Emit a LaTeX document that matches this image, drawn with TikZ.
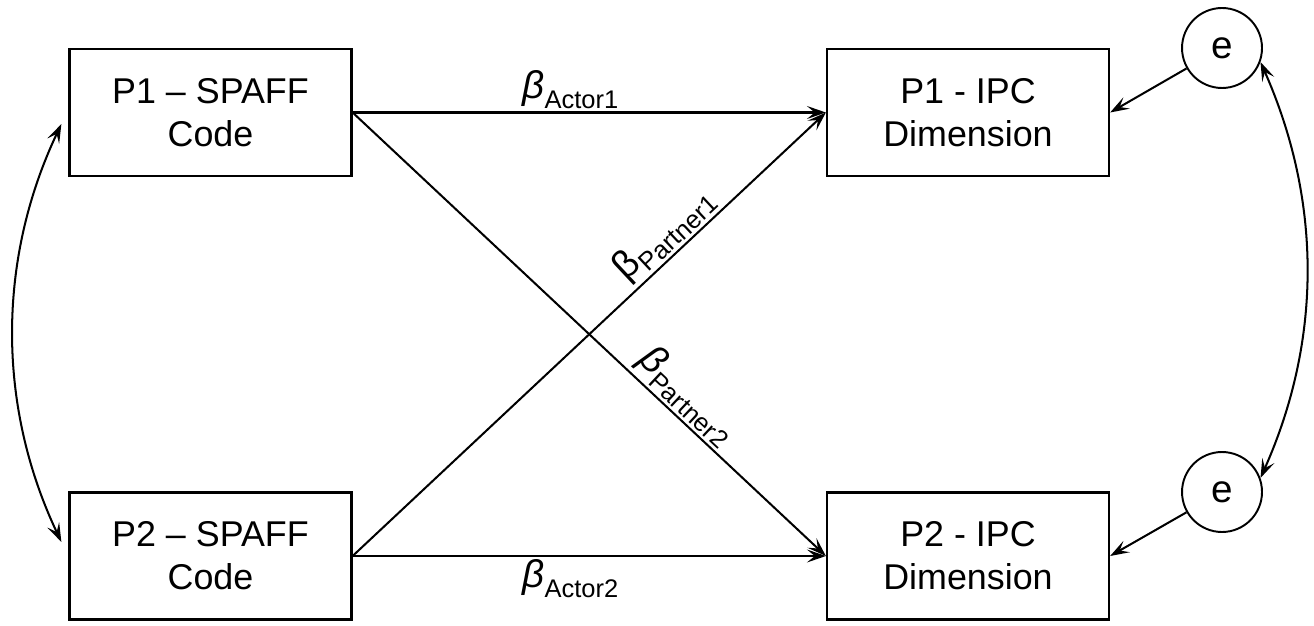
\documentclass[tikz,border=0pt]{standalone}
\usepackage{fontspec}
\setmainfont{Liberation Sans}
\usetikzlibrary{arrows.meta}
\newcommand\mybeta[3]{{\fontsize{22}{22}\selectfont #1β}\raisebox{-5.5pt}{\fontsize{14.5}{14.5}\selectfont #2}#3}
\begin{document}
\begin{tikzpicture}[x=0.02cm,y=-0.02cm,
  box/.style={draw, line width=1.3pt, minimum width=5.64cm, minimum height=2.54cm, align=center, inner sep=0pt, font=\fontsize{20.4}{24.5}\selectfont},
  err/.style={draw, circle, line width=1.1pt, minimum size=1.6cm, inner sep=0pt, font=\fontsize{22}{22}\selectfont},
  conn/.style={line width=1.15pt, -{Stealth[length=0.38cm,width=0.26cm,inset=0.16cm]}},
  dconn/.style={line width=1.15pt, {Stealth[length=0.38cm,width=0.26cm,inset=0.16cm]}-{Stealth[length=0.38cm,width=0.26cm,inset=0.16cm]}},
  lab/.style={inner sep=1.5pt}
]
\useasboundingbox (0,0) rectangle (1314,625);
\node[box] (s1) at (210.5,112.5) {P1 – SPAFF\\Code};
\node[box] (s2) at (210.5,556) {P2 – SPAFF\\Code};
\node[box] (i1) at (968,112.5) {P1 - IPC\\Dimension};
\node[box] (i2) at (968,556) {P2 - IPC\\Dimension};
\node[err] (e1) at (1222,48) {e};
\node[err] (e2) at (1222,492) {e};

\draw[conn] (s1.east) -- node[lab, above, pos=0.46] (la1) {\mybeta{\itshape}{Actor1}{}} (i1.west);
\draw[conn] (s2.east) -- node[lab, below, pos=0.46] (la2) {\mybeta{\itshape}{Actor2}{}} (i2.west);
\draw[conn] (s2.east) -- node[lab, above, sloped, pos=0.69] (lp1) {\mybeta{}{Partner1}{}} (i1.west);
\draw[conn] (s1.east) -- node[lab, above, sloped, pos=0.675] (lp2) {\mybeta{\itshape}{Partner2}{}} (i2.west);

\draw[conn] (e1) -- (i1.east);
\draw[conn] (e2) -- (i2.east);

\draw[dconn] ([shift={(-7,11.5)}]s1.west) .. controls (-3,260) and (-3,406) .. ([shift={(-7,-14)}]s2.west);
\draw[dconn] (e1.-20) .. controls (1322,201) and (1322,340) .. (e2.20);
\end{tikzpicture}
\end{document}
